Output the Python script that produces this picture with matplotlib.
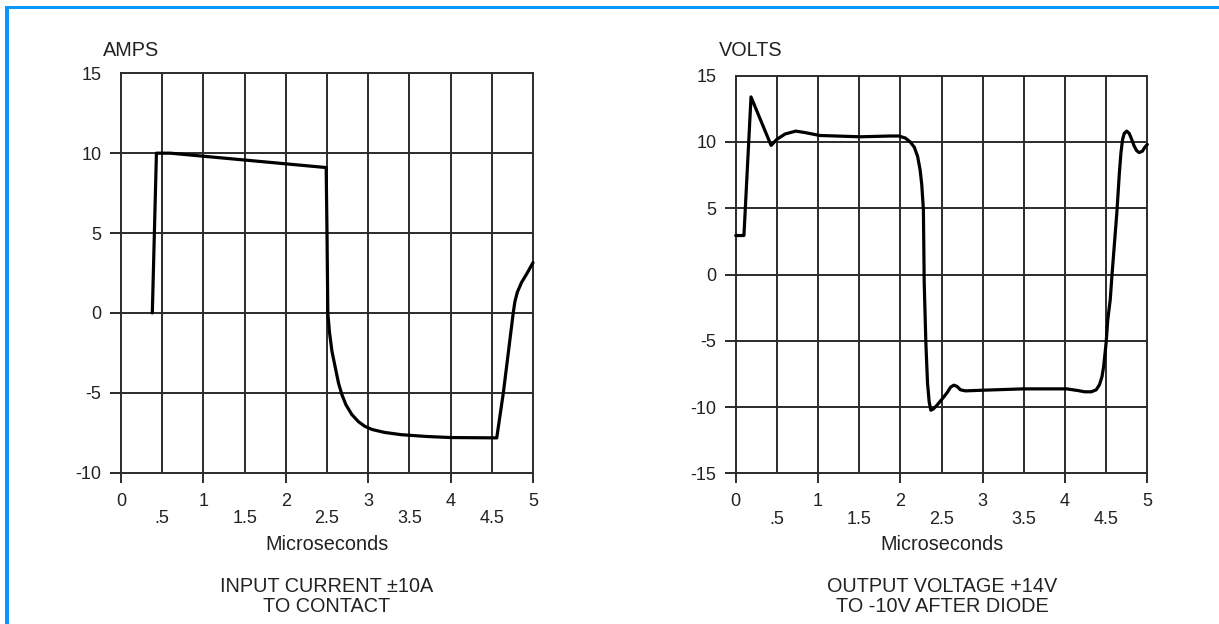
import matplotlib
matplotlib.use("Agg")
import matplotlib.pyplot as plt
from matplotlib.patches import Rectangle

plt.rcParams['font.family'] = ['Liberation Sans', 'DejaVu Sans']

# ---- data ----
x_ticks_major = [0, 1, 2, 3, 4, 5]
x_ticks_major_labels = ["0", "1", "2", "3", "4", "5"]
x_ticks_minor = [0.5, 1.5, 2.5, 3.5, 4.5]
x_ticks_minor_labels = [".5", "1.5", "2.5", "3.5", "4.5"]

amps_t = [0.38, 0.43, 0.60, 2.49, 2.50, 2.51, 2.53, 2.56, 2.60, 2.64, 2.68, 2.73, 2.80,
          2.88, 2.96, 3.05, 3.20, 3.40, 3.70, 4.00, 4.56, 4.64, 4.70, 4.76, 4.78, 4.81,
          4.86, 4.93, 5.00]
amps_v = [0.0, 10.0, 10.0, 9.1, 5.0, 0.0, -1.2, -2.4, -3.4, -4.4, -5.1, -5.75, -6.35,
          -6.8, -7.1, -7.3, -7.48, -7.62, -7.73, -7.8, -7.82, -5.0, -2.5, 0.0, 0.7, 1.3,
          1.9, 2.5, 3.15]
amps_yticks = [-10, -5, 0, 5, 10, 15]

volts_t = [0.0, 0.10, 0.186, 0.43, 0.50, 0.60, 0.73, 0.85, 1.02, 1.51, 1.88, 1.98, 2.06,
           2.12, 2.17, 2.21, 2.24, 2.26, 2.28, 2.29, 2.31, 2.33, 2.35, 2.37, 2.40, 2.44,
           2.48, 2.52, 2.57, 2.61, 2.65, 2.69, 2.73, 2.79, 3.01, 3.49, 4.02, 4.15, 4.24,
           4.32, 4.38, 4.42, 4.45, 4.47, 4.50, 4.52, 4.55, 4.57, 4.63, 4.66, 4.68, 4.70,
           4.72, 4.75, 4.78, 4.81, 4.84, 4.87, 4.90, 4.94, 4.97, 5.00]
volts_v = [2.94, 2.94, 13.4, 9.74, 10.2, 10.6, 10.82, 10.7, 10.49, 10.39, 10.45, 10.45, 10.3,
           10.0, 9.6, 8.9, 7.9, 6.8, 4.9, -0.63, -5.15, -8.17, -9.6, -10.24, -10.15, -9.9,
           -9.6, -9.3, -8.9, -8.5, -8.35, -8.45, -8.7, -8.78, -8.73, -8.63, -8.63, -8.75,
           -8.85, -8.85, -8.7, -8.3, -7.7, -6.92, -5.15, -3.4, -1.89, -0.12, 4.66, 7.6, 9.19,
           10.2, 10.65, 10.82, 10.65, 10.2, 9.7, 9.35, 9.2, 9.3, 9.6, 9.81]
volts_yticks = [-15, -10, -5, 0, 5, 10, 15]

W, H = 1219, 624
fig = plt.figure(figsize=(W / 100, H / 100), dpi=100)
fig.patch.set_facecolor("white")

GRID = "#2b2b2b"
TXT = "#222222"
LW_GRID = 1.4
FS = 13
FS2 = 14.3


def px_axes(left, top, right, bottom):
    return [left / W, 1 - bottom / H, (right - left) / W, (bottom - top) / H]


def setup(ax, yticks, ylim, t, v, ylab, ylab_x, xlab_x, title):
    ax.plot(t, v, color="black", lw=2.3, solid_joinstyle="round", solid_capstyle="round",
            zorder=5, clip_on=False)
    ax.set_xlim(0, 5)
    ax.set_ylim(*ylim)
    for xv in [0.5 * i for i in range(1, 10)]:
        ax.axvline(xv, color=GRID, lw=LW_GRID, zorder=1)
    for yv in yticks[1:-1]:
        ax.axhline(yv, color=GRID, lw=LW_GRID, zorder=1)
    for s in ax.spines.values():
        s.set_color(GRID)
        s.set_linewidth(LW_GRID)
    ax.set_yticks(yticks)
    ax.set_yticklabels([str(y) for y in yticks])
    ax.tick_params(axis="y", length=8, width=LW_GRID, color=GRID, pad=6, labelsize=FS,
                   labelcolor=TXT)
    ax.yaxis.get_major_ticks()[-1].tick1line.set_visible(False)
    ax.set_xticks(x_ticks_major)
    ax.set_xticklabels(x_ticks_major_labels)
    ax.set_xticks(x_ticks_minor, minor=True)
    ax.set_xticklabels(x_ticks_minor_labels, minor=True)
    ax.tick_params(axis="x", which="major", length=7.5, width=LW_GRID, color=GRID,
                   pad=7, labelsize=FS, labelcolor=TXT)
    ax.tick_params(axis="x", which="minor", length=0, pad=27, labelsize=FS, labelcolor=TXT)
    fig.text(ylab_x / W, 1 - 50 / H, ylab, fontsize=FS2, ha="left", va="center", color=TXT)
    fig.text(xlab_x / W, 1 - 545 / H, "Microseconds", fontsize=FS2, ha="center", va="center",
             color=TXT)
    fig.text(xlab_x / W, 1 - 587 / H, title[0], fontsize=FS2, ha="center", va="center",
             color=TXT)
    fig.text(xlab_x / W, 1 - 606 / H, title[1], fontsize=FS2, ha="center", va="center",
             color=TXT)


ax1 = fig.add_axes(px_axes(121, 73.3, 533, 472.7))
setup(ax1, amps_yticks, (-10, 15), amps_t, amps_v, "AMPS", 103, 327,
      ("INPUT CURRENT \u00b110A", "TO CONTACT"))

ax2 = fig.add_axes(px_axes(735.7, 75.7, 1147.3, 473.3))
setup(ax2, volts_yticks, (-15, 15), volts_t, volts_v, "VOLTS", 719, 942,
      ("OUTPUT VOLTAGE +14V", "TO -10V AFTER DIODE"))

# blue frame (top and left)
BLUE = "#0a96ff"
fig.add_artist(Rectangle((5 / W, 1 - 9 / H), 1 - 5 / W, 3.5 / H, transform=fig.transFigure,
                         facecolor=BLUE, edgecolor="none"))
fig.add_artist(Rectangle((5 / W, 0), 3.5 / W, 1 - 5.5 / H, transform=fig.transFigure,
                         facecolor=BLUE, edgecolor="none"))

fig.savefig("out.png", dpi=100)
